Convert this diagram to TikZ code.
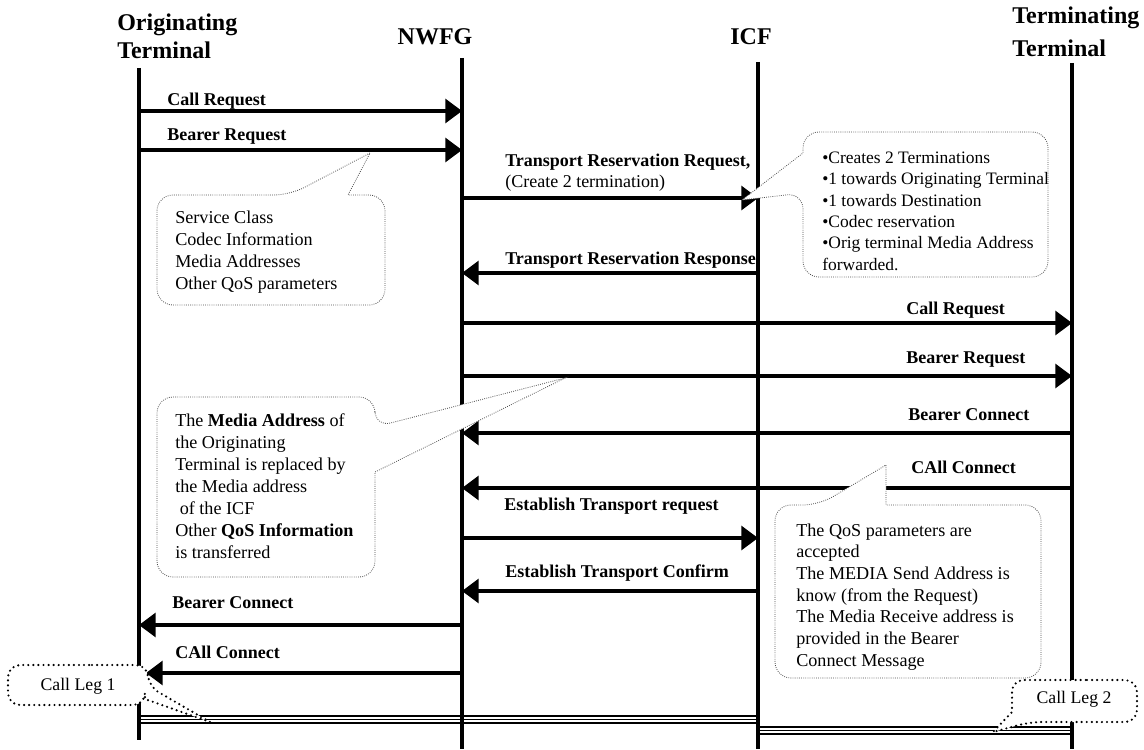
\documentclass[tikz,border=0pt]{standalone}
\usepackage{fontspec}
\setmainfont{Liberation Serif}
\usetikzlibrary{arrows.meta}

\begin{document}
\begin{tikzpicture}[x=0.75pt,y=-0.75pt,
  life/.style={line width=2.4pt},
  msg/.style={line width=2.3pt,-{Triangle[length=12.5pt,width=18pt]}},
  lbl/.style={anchor=base west,inner sep=0pt,font=\bfseries\fontsize{13.5}{16}\selectfont},
  lblplain/.style={anchor=base west,inner sep=0pt,font=\fontsize{13.5}{16}\selectfont},
  head/.style={inner sep=0pt,font=\bfseries\fontsize{18}{22}\selectfont},
  note/.style={draw=black!70,line width=0.6pt,densely dotted,fill=white,rounded corners=12pt},
  notetext/.style={anchor=base west,inner sep=0pt,align=left},
  leg/.style={draw=black,line width=1.8pt,dash pattern=on 0pt off 3.8pt,line cap=round,fill=white,rounded corners=9pt},
  legtext/.style={inner sep=0pt,font=\fontsize{13.3}{16}\selectfont},
  rail/.style={line width=1.3pt}
]
\useasboundingbox (0,0) rectangle (1144,749);

% ---- headers
\node[head,anchor=base west] (hOT1) at (117,31) {Originating};
\node[head,anchor=base west] (hOT2) at (117,59) {Terminal};
\node[head,anchor=base] (hNW) at (435,45) {NWFG};
\node[head,anchor=base] (hIC) at (751,45) {ICF};
\node[head,anchor=base west] (hTT1) at (1012,24) {Terminating};
\node[head,anchor=base west] (hTT2) at (1012,57) {Terminal};

% ---- lifelines
\coordinate (OTt) at (139,68);  \coordinate (OTb) at (139,740);
\coordinate (NWt) at (462,58);  \coordinate (NWb) at (462,749);
\coordinate (ICt) at (758,62);  \coordinate (ICb) at (758,749);
\coordinate (TTt) at (1072,63); \coordinate (TTb) at (1072,749);
\draw[life] (OTt) -- (OTb);
\draw[life] (NWt) -- (NWb);
\draw[life] (ICt) -- (ICb);
\draw[life] (TTt) -- (TTb);

% ---- call legs (triple rails)
\coordinate (L1a) at (141,716); \coordinate (L1b) at (758,716);
\coordinate (L2a) at (760,727); \coordinate (L2b) at (1072,727);
\foreach \d in {0,3.5,7}{
  \draw[rail] ([yshift=-\d*0.75pt]L1a) -- ([yshift=-\d*0.75pt]L1b);
  \draw[rail] ([yshift=-\d*0.75pt]L2a) -- ([yshift=-\d*0.75pt]L2b);
}

% ---- message end points
\coordinate (m1a) at (139,111);  \coordinate (m1b) at (462,111);
\coordinate (m2a) at (139,150);  \coordinate (m2b) at (462,150);
\coordinate (m3a) at (462,198);  \coordinate (m3b) at (758,198);
\coordinate (m4a) at (758,273);  \coordinate (m4b) at (462,273);
\coordinate (m5a) at (462,323);  \coordinate (m5b) at (1072,323);
\coordinate (m6a) at (462,376);  \coordinate (m6b) at (1072,376);
\coordinate (m7a) at (1072,433); \coordinate (m7b) at (462,433);
\coordinate (m8a) at (1072,488); \coordinate (m8b) at (462,488);
\coordinate (m9a) at (462,538);  \coordinate (m9b) at (758,538);
\coordinate (m10a) at (758,591); \coordinate (m10b) at (462,591);
\coordinate (m11a) at (462,625); \coordinate (m11b) at (139,625);
\coordinate (m12a) at (462,673); \coordinate (m12b) at (146,673);

\foreach \m in {1,...,12}{ \draw[msg] (m\m a) -- (m\m b); }

% ---- message labels
\node[lbl] (t1) at (167,105) {Call Request};
\node[lbl] (t2) at (167,140) {Bearer Request};
\node[lbl] (t3) at (505,166) {Transport Reservation Request,};
\node[lblplain] (t3b) at (505,187) {(Create 2 termination)};
\node[lbl] (t4) at (505,264) {Transport Reservation Response};
\node[lbl] (t5) at (906,314) {Call Request};
\node[lbl] (t6) at (906,363) {Bearer Request};
\node[lbl] (t7) at (908,420) {Bearer Connect};
\node[lbl] (t8) at (911,473) {CAll Connect};
\node[lbl] (t9) at (504,510) {Establish Transport request};
\node[lbl] (t10) at (505,577) {Establish Transport Confirm};
\node[lbl] (t11) at (172,608) {Bearer Connect};
\node[lbl] (t12) at (175,658) {CAll Connect};

% ---- notes (text nodes are placed by the baseline of their last line)
\draw[note] (157,250) -- (157,195) -- (290,195) [sharp corners] -- (370,153)
  -- (348,195) [rounded corners=12pt] -- (385,195) -- (385,305) -- (157,305) -- cycle;
\node[notetext,font=\fontsize{13.6}{16.5}\selectfont] (nA) at (175,289)
  {Service Class\\Codec Information\\Media Addresses\\Other QoS parameters};

\draw[note] (925,132) -- (1048,132) -- (1048,277) -- (803,277) -- (803,193) [sharp corners]
  -- (742,200) -- (803,153) [rounded corners=12pt] -- (803,132) -- cycle;
\node[notetext,font=\fontsize{13.1}{16}\selectfont] (nB) at (822,270)
  {•Creates 2 Terminations\\•1 towards Originating Terminal\\•1 towards Destination\\•Codec reservation\\•Orig terminal Media Address\\forwarded.};

\draw[note] (157,487) -- (157,397) -- (375,397) -- (375,427) [sharp corners] -- (565,378)
  -- (375,472) [rounded corners=12pt] -- (375,577) -- (157,577) -- cycle;
\node[notetext,font=\fontsize{13.6}{16.5}\selectfont] (nC) at (175,558)
  {The \textbf{Media Address} of\\the Originating\\Terminal is replaced by\\the Media address\\\hspace*{0.25em}of the ICF\\Other \textbf{QoS Information}\\is transferred};

\draw[note] (775,590) -- (775,505) -- (819,505) [sharp corners] -- (886,465)
  -- (886,505) [rounded corners=12pt] -- (1041,505) -- (1041,678) -- (775,678) -- cycle;
\node[notetext,font=\fontsize{13.6}{16.25}\selectfont] (nD) at (796,666)
  {The QoS parameters are\\accepted\\The MEDIA Send Address is\\know (from the Request)\\The Media Receive address is\\provided in the Bearer\\Connect Message};

% ---- call leg tags
\draw[leg] (80,665) -- (148,665) -- (148,686) [sharp corners] -- (210,722)
  -- (145,699) [rounded corners=9pt] -- (145,705) -- (8,705) -- (8,665) -- cycle;
\node[legtext] (cl1) at (78,686) {Call Leg 1};

\draw[leg] (1075,680) -- (1137,680) -- (1137,722) -- (1030,722) [sharp corners]
  -- (993,732) -- (1012,712) [rounded corners=9pt] -- (1012,680) -- cycle;
\node[legtext] (cl2) at (1074,699) {Call Leg 2};
\end{tikzpicture}
\end{document}
